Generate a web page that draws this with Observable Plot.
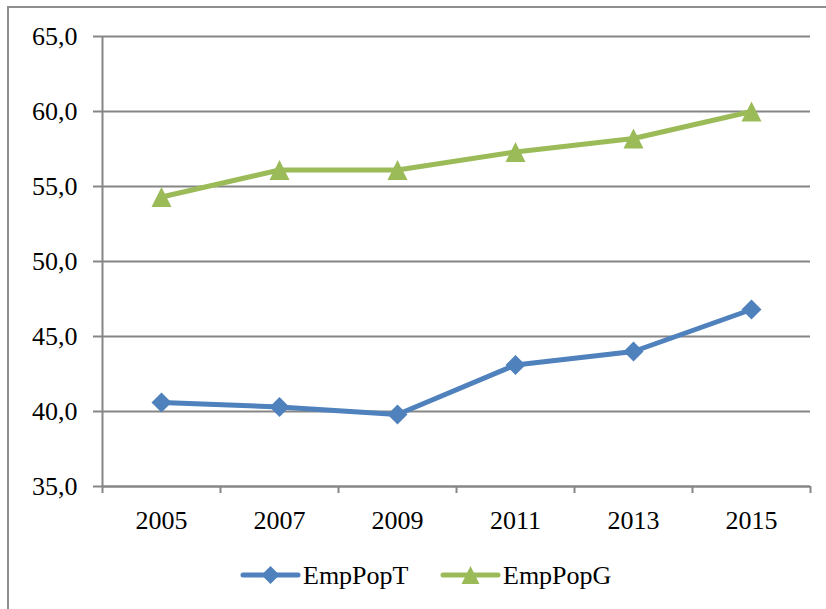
<!DOCTYPE html>
<html>
<head>
<meta charset="utf-8">
<script src="https://cdn.jsdelivr.net/npm/d3@7"></script>
<script src="https://cdn.jsdelivr.net/npm/@observablehq/plot@0.6"></script>
<style>
  html, body { margin: 0; padding: 0; background: #fff; }
  #chart { position: relative; width: 826px; height: 609px; overflow: hidden; font-family: "Liberation Serif", "Times New Roman", serif; }
  #frame { position: absolute; left: 7px; top: 6px; width: 900px; height: 700px; border-left: 2px solid #8e8e8e; border-top: 2px solid #8e8e8e; }
  #chart svg { position: absolute; left: 0; top: 0; }
</style>
</head>
<body>
<div id="chart"><div id="frame"></div></div>
<script>
// Employment-to-population ratios, every second year
const years = [2005, 2007, 2009, 2011, 2013, 2015];
const empPopT = [40.6, 40.3, 39.8, 43.1, 44.0, 46.8];
const empPopG = [54.3, 56.1, 56.1, 57.3, 58.2, 60.0];
const yTicks = [35, 40, 45, 50, 55, 60, 65];
const seriesNames = ["EmpPopT", "EmpPopG"];
const seriesColors = ["#4F81BD", "#9BBB59"];

const gridColor = "#868686";
const fontSize = 26;

// long-format table for the line and dot marks
const rows = [];
years.forEach((year, i) => {
  rows.push({series: seriesNames[0], year, value: empPopT[i]});
  rows.push({series: seriesNames[1], year, value: empPopG[i]});
});

// each year sits in the middle of a two-year category slot
const xDomain = [years[0] - 1, years[years.length - 1] + 1];
const boundaries = [...years.map(y => y - 1), years[years.length - 1] + 1];

// square-rotated diamond and equal-sided triangle markers
const diamond = {
  draw(context, size) {
    const h = Math.sqrt(size / Math.PI);
    context.moveTo(0, -h);
    context.lineTo(h, 0);
    context.lineTo(0, h);
    context.lineTo(-h, 0);
    context.closePath();
  }
};
const triangle = {
  draw(context, size) {
    const h = Math.sqrt(size / Math.PI);
    context.moveTo(0, -h);
    context.lineTo(h, h);
    context.lineTo(-h, h);
    context.closePath();
  }
};
const symbols = [diamond, triangle];

const fmt = v => d3.format(".1f")(v).replace(".", ",");

const plot = Plot.plot({
  width: 826,
  height: 609,
  marginLeft: 102,
  marginRight: 16,
  marginTop: 36,
  marginBottom: 123,
  style: {fontFamily: "'Liberation Serif', 'Times New Roman', serif", fontSize: fontSize + "px", background: "transparent", color: "#000"},
  x: {type: "linear", domain: xDomain, axis: null},
  y: {type: "linear", domain: [yTicks[0], yTicks[yTicks.length - 1]], axis: null},
  color: {domain: seriesNames, range: seriesColors},
  symbol: {domain: seriesNames, range: symbols},
  marks: [
    Plot.gridY(yTicks, {stroke: gridColor, strokeOpacity: 1, strokeWidth: 2}),
    Plot.axisY(yTicks, {
      label: null, tickSize: 9, tickPadding: 16, tickFormat: fmt,
      stroke: gridColor, strokeWidth: 2, fill: "#000", fontSize
    }),
    Plot.ruleX([xDomain[0]], {stroke: gridColor, strokeWidth: 2}),
    Plot.ruleY([yTicks[0]], {stroke: gridColor, strokeWidth: 2}),
    Plot.axisX(boundaries, {label: null, tickSize: 7, tickFormat: () => "", stroke: gridColor, strokeWidth: 2}),
    Plot.axisX(years, {label: null, tickSize: 0, tickPadding: 24, tickFormat: d => String(d), fill: "#000", fontSize}),
    Plot.line(rows, {x: "year", y: "value", z: "series", stroke: "series", strokeWidth: 5, strokeLinejoin: "round", curve: "linear"}),
    Plot.dot(rows, {x: "year", y: "value", symbol: "series", fill: "series", stroke: "none", r: 10})
  ]
});
document.getElementById("chart").appendChild(plot);

// legend below the plot: line sample with marker, then the series name
const legend = d3.select("#chart").append("svg")
  .attr("width", 826).attr("height", 609)
  .style("pointer-events", "none");
const legendItems = [
  {x0: 243, x1: 298, tx: 303},
  {x0: 443, x1: 498, tx: 503}
];
seriesNames.forEach((name, i) => {
  const it = legendItems[i];
  const g = legend.append("g").attr("transform", `translate(0,575)`);
  g.append("line")
    .attr("x1", it.x0).attr("x2", it.x1)
    .attr("stroke", seriesColors[i]).attr("stroke-width", 5).attr("stroke-linecap", "round");
  g.append("path")
    .attr("transform", `translate(${(it.x0 + it.x1) / 2},0)`)
    .attr("d", d3.symbol(symbols[i], Math.PI * 9 * 9)())
    .attr("fill", seriesColors[i]);
  g.append("text")
    .attr("x", it.tx).attr("y", 9)
    .attr("font-family", "'Liberation Serif', 'Times New Roman', serif")
    .attr("font-size", fontSize)
    .attr("fill", "#000")
    .text(name);
});
</script>
</body>
</html>
